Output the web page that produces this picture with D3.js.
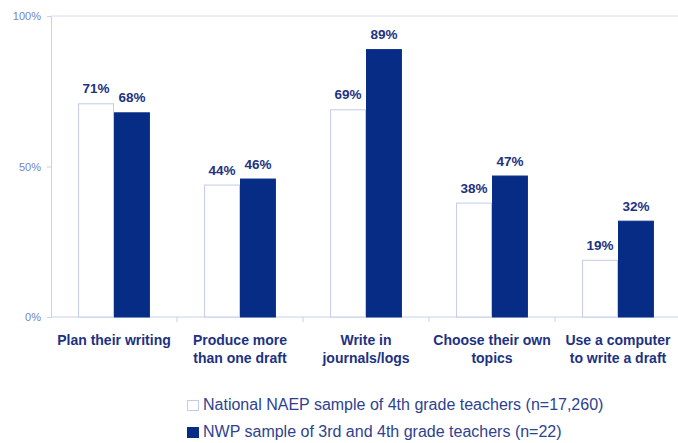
<!DOCTYPE html>
<html>
<head>
<meta charset="utf-8">
<script src="https://cdn.jsdelivr.net/npm/d3@7"></script>
<style>
  body { margin: 0; background: #fff; }
  svg { display: block; font-family: "Liberation Sans", Arial, sans-serif; }
</style>
</head>
<body>
<div id="chart"></div>
<script>
// Data
const categories = [
    ["Plan their writing"],
    ["Produce more", "than one draft"],
    ["Write in", "journals/logs"],
    ["Choose their own", "topics"],
    ["Use a computer", "to write a draft"]
];
const seriesNames = [
    "National NAEP sample of 4th grade teachers (n=17,260)",
    "NWP sample of 3rd and 4th grade teachers (n=22)"
];
const naepValues = [71, 44, 69, 38, 19];
const nwpValues = [68, 46, 89, 47, 32];
const yTicks = [0, 50, 100];

const navy = "#072c86";
const paleLine = "#c9d1ea";
const fills = ["#ffffff", navy];
const strokes = ["#c3cbe8", navy];

const W = 678, H = 443;
const svg = d3.select("#chart").append("svg")
    .attr("width", W)
    .attr("height", H);

// Scales
const x0 = d3.scaleBand()
    .domain(d3.range(categories.length))
    .range([51, 681])
    .paddingInner(0.43)
    .paddingOuter(0.215);

const x1 = d3.scaleBand()
    .domain([0, 1])
    .range([0, x0.bandwidth()]);

const y = d3.scaleLinear()
    .domain([0, 100])
    .range([317, 16]);

// top gridline
svg.append("line")
    .attr("x1", 51).attr("x2", W)
    .attr("y1", y(100)).attr("y2", y(100))
    .attr("stroke", "#d6dcef");

// Y axis
const yAxis = svg.append("g")
    .attr("transform", "translate(51,0)")
    .call(d3.axisLeft(y).tickValues(yTicks).tickFormat(d => d + "%").tickSize(4));
yAxis.select(".domain").attr("stroke", paleLine);
yAxis.selectAll(".tick line").attr("stroke", paleLine);
yAxis.selectAll(".tick text")
    .attr("fill", "#7384c2")
    .attr("font-size", 11)
    .attr("x", -10)
    .attr("font-family", "Liberation Sans, Arial, sans-serif");

// X axis line and tick marks between categories
svg.append("line")
    .attr("x1", 51).attr("x2", W)
    .attr("y1", y(0)).attr("y2", y(0))
    .attr("stroke", paleLine);
svg.selectAll(".xtick")
    .data(d3.range(1, categories.length))
    .enter().append("line")
    .attr("class", "xtick")
    .attr("x1", i => 51 + i * x0.step())
    .attr("x2", i => 51 + i * x0.step())
    .attr("y1", y(0)).attr("y2", y(0) + 5)
    .attr("stroke", paleLine);

// Bars
const rows = categories.map((c, i) => [naepValues[i], nwpValues[i]]);
const groups = svg.selectAll(".grp")
    .data(rows)
    .enter().append("g")
    .attr("class", "grp")
    .attr("transform", (d, i) => `translate(${x0(i)},0)`);

groups.selectAll("rect")
    .data(d => d.map((v, s) => ({ v, s })))
    .enter().append("rect")
    .attr("x", d => x1(d.s) + 0.5)
    .attr("y", d => y(d.v) + 0.5)
    .attr("width", x1.bandwidth() - 1)
    .attr("height", d => y(0) - y(d.v) - 0.5)
    .attr("fill", d => fills[d.s])
    .attr("stroke", d => strokes[d.s]);

groups.selectAll(".val")
    .data(d => d.map((v, s) => ({ v, s })))
    .enter().append("text")
    .attr("class", "val")
    .attr("x", d => x1(d.s) + x1.bandwidth() / 2)
    .attr("y", d => y(d.v) - 10)
    .attr("text-anchor", "middle")
    .attr("font-size", 13.5)
    .attr("font-weight", "bold")
    .attr("fill", "#1d3282")
    .text(d => d.v + "%");

// Category labels
svg.selectAll(".cat")
    .data(categories)
    .enter().append("text")
    .attr("class", "cat")
    .attr("x", (d, i) => x0(i) + x0.bandwidth() / 2)
    .attr("y", 345)
    .attr("text-anchor", "middle")
    .attr("font-size", 14)
    .attr("font-weight", "bold")
    .attr("fill", "#1d3282")
    .selectAll("tspan")
    .data(d => d)
    .enter().append("tspan")
    .attr("x", function() { return this.parentNode.getAttribute("x"); })
    .attr("dy", (d, j) => j === 0 ? 0 : 18)
    .text(d => d);

// Legend
const legend = svg.selectAll(".leg")
    .data(seriesNames)
    .enter().append("g")
    .attr("class", "leg")
    .attr("transform", (d, i) => `translate(187,${410 + i * 27})`);
legend.append("rect")
    .attr("x", 0.5).attr("y", -9.5)
    .attr("width", 11).attr("height", 10)
    .attr("fill", (d, i) => fills[i])
    .attr("stroke", (d, i) => strokes[i]);
legend.append("text")
    .attr("x", 16)
    .attr("y", 0)
    .attr("font-size", 16)
    .attr("fill", "#2e4290")
    .text(d => d);
</script>
</body>
</html>
